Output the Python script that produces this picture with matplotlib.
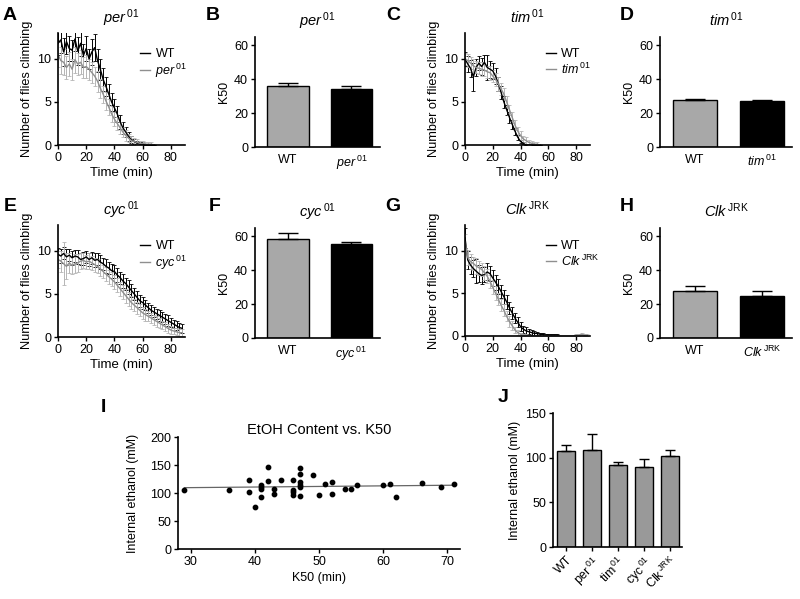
import matplotlib
matplotlib.use("Agg")
import matplotlib.pyplot as plt
import numpy as np

plt.rcParams['font.family'] = ['Liberation Sans', 'DejaVu Sans']
plt.rcParams['mathtext.fontset'] = 'custom'
plt.rcParams['mathtext.rm'] = 'Liberation Sans'
plt.rcParams['mathtext.it'] = 'Liberation Sans:italic'
plt.rcParams['axes.linewidth'] = 1.2
plt.rcParams['xtick.major.width'] = 1.0
plt.rcParams['ytick.major.width'] = 1.0
plt.rcParams['xtick.major.size'] = 3
plt.rcParams['ytick.major.size'] = 3
plt.rcParams['xtick.labelsize'] = 9
plt.rcParams['ytick.labelsize'] = 9

# ---- climbing time courses (time in min, number of flies climbing) ----
t_a = list(range(0, 70, 2))
wt_a = [11.8, 12.2, 10.8, 12.0, 11.2, 11.0, 12.3, 10.9, 11.8, 10.4, 11.2, 10.0, 10.8, 11.3, 9.8, 8.8, 7.6, 6.8,
        5.9, 5.0, 4.3, 3.6, 2.7, 2.0, 1.5, 1.0, 0.6, 0.4, 0.2, 0.1, 0.1, 0.0, 0.0, 0.0, 0.0]
wt_a_err = [1.3, 1.5, 1.6, 1.4, 1.5, 1.2, 1.4, 1.6, 1.5, 1.3, 1.4, 1.2, 1.5, 1.6, 1.3, 1.2, 1.3, 1.1,
            1.2, 1.0, 1.0, 0.9, 0.8, 0.7, 0.6, 0.5, 0.4, 0.3, 0.3, 0.2, 0.2, 0.0, 0.0, 0.0, 0.0]
per_a = [10.5, 9.8, 9.6, 9.0, 9.4, 8.8, 9.9, 9.4, 9.6, 9.0, 9.1, 8.8, 8.4, 8.0, 7.4, 6.6, 5.9, 5.1,
         4.4, 3.6, 3.0, 2.5, 2.0, 1.5, 1.1, 0.8, 0.5, 0.4, 0.3, 0.2, 0.2, 0.1, 0.1, 0.1, 0.0]
per_a_err = [1.4, 1.6, 1.5, 1.3, 1.4, 1.2, 1.5, 1.3, 1.4, 1.2, 1.3, 1.2, 1.2, 1.1, 1.2, 1.1, 1.0, 1.0,
             0.9, 0.9, 0.8, 0.8, 0.7, 0.6, 0.6, 0.5, 0.5, 0.4, 0.4, 0.3, 0.3, 0.3, 0.2, 0.2, 0.1]

t_c = list(range(0, 56, 2))
wt_c = [10.0, 9.4, 8.9, 7.9, 9.0, 9.5, 9.1, 9.6, 9.0, 8.8, 8.6, 8.0, 7.1, 6.1, 5.0, 4.1, 3.2, 2.4,
        1.6, 0.9, 0.4, 0.2, 0.0, 0.0, 0.0, 0.0, 0.0, 0.0]
wt_c_err = [0.8, 0.9, 1.0, 1.6, 1.0, 0.8, 1.0, 0.9, 1.5, 1.0, 0.9, 0.9, 0.8, 0.8, 0.7, 0.6, 0.6, 0.5,
            0.4, 0.3, 0.2, 0.1, 0.0, 0.0, 0.0, 0.0, 0.0, 0.0]
tim_c = [10.0, 9.8, 9.5, 9.2, 9.0, 8.9, 8.8, 8.7, 8.5, 8.4, 8.0, 7.6, 7.1, 6.5, 5.9, 5.0, 4.1, 3.2,
         2.3, 1.6, 1.1, 0.7, 0.5, 0.3, 0.2, 0.1, 0.1, 0.0]
tim_c_err = [0.7, 0.8, 0.7, 0.8, 0.7, 0.7, 0.8, 0.7, 0.7, 0.8, 0.7, 0.7, 0.8, 0.7, 0.7, 0.7, 0.6, 0.6,
             0.6, 0.5, 0.5, 0.4, 0.4, 0.3, 0.3, 0.2, 0.2, 0.1]

t_e = list(range(0, 90, 2))
wt_e = [9.6, 9.4, 9.7, 9.3, 9.5, 9.2, 9.4, 9.3, 9.0, 9.1, 9.3, 9.0, 9.2, 8.9, 9.0, 8.7, 8.5, 8.2, 8.0,
        7.7, 7.6, 7.2, 6.9, 6.5, 6.2, 5.8, 5.4, 5.0, 4.6, 4.2, 4.0, 3.7, 3.4, 3.1, 2.9, 2.7, 2.5, 2.3,
        2.1, 1.9, 1.7, 1.5, 1.3, 1.1, 1.0]
wt_e_err = [0.7, 0.8, 0.7, 0.9, 0.7, 0.8, 0.7, 0.8, 0.7, 0.8, 0.7, 0.8, 0.7, 0.8, 0.7, 0.8, 0.7, 0.8, 0.7,
            0.8, 0.7, 0.8, 0.7, 0.8, 0.7, 0.8, 0.7, 0.7, 0.7, 0.7, 0.7, 0.6, 0.6, 0.6, 0.6, 0.6, 0.6, 0.6,
            0.6, 0.6, 0.5, 0.5, 0.5, 0.5, 0.5]
cyc_e = [9.0, 8.8, 8.5, 8.2, 8.6, 8.3, 8.5, 8.6, 8.8, 8.9, 8.7, 8.8, 8.6, 8.4, 8.2, 7.9, 7.6, 7.3, 7.0,
         6.7, 6.4, 6.0, 5.6, 5.2, 4.8, 4.4, 4.0, 3.7, 3.4, 3.1, 2.8, 2.6, 2.4, 2.2, 2.0, 1.8, 1.6, 1.4,
         1.2, 1.0, 0.8, 0.7, 0.6, 0.5, 0.5]
cyc_e_err = [1.0, 1.2, 2.5, 1.5, 1.2, 1.0, 1.1, 1.0, 0.9, 0.9, 0.8, 0.9, 0.8, 0.8, 0.8, 0.8, 0.8, 0.8, 0.8,
             0.8, 0.8, 0.8, 0.8, 0.8, 0.8, 0.8, 0.8, 0.7, 0.7, 0.7, 0.7, 0.7, 0.6, 0.6, 0.6, 0.6, 0.6, 0.5,
             0.5, 0.5, 0.5, 0.4, 0.4, 0.4, 0.4]

t_g_wt = list(range(0, 70, 2))
wt_g = [11.5, 8.9, 8.3, 7.9, 7.6, 7.3, 7.1, 7.2, 7.5, 7.3, 6.8, 6.3, 5.8, 5.2, 4.6, 4.0, 3.3, 2.7,
        2.1, 1.6, 1.1, 0.8, 0.6, 0.5, 0.4, 0.3, 0.3, 0.2, 0.2, 0.1, 0.1, 0.1, 0.1, 0.1, 0.0]
wt_g_err = [1.2, 1.1, 1.0, 1.0, 1.4, 1.0, 1.0, 0.9, 1.0, 0.9, 0.9, 0.9, 0.9, 0.8, 0.8, 0.8, 0.7, 0.7,
            0.6, 0.6, 0.5, 0.4, 0.4, 0.3, 0.3, 0.3, 0.2, 0.2, 0.2, 0.1, 0.1, 0.1, 0.1, 0.1, 0.0]
t_g_mut = list(range(0, 90, 2))
clk_g = [11.0, 9.2, 8.7, 8.5, 8.2, 8.0, 7.8, 7.4, 7.0, 6.4, 5.7, 5.0, 4.3, 3.6, 3.0, 2.3, 1.7, 1.2,
         0.7, 0.4, 0.2, 0.1, 0.1, 0.0, 0.0, 0.0, 0.0, 0.0, 0.0, 0.0, 0.0, 0.0, 0.0, 0.0, 0.0, 0.0,
         0.0, 0.0, 0.0, 0.0, 0.1, 0.1, 0.2, 0.1, 0.1]
clk_g_err = [1.0, 0.9, 0.9, 0.8, 0.9, 0.8, 0.8, 0.8, 0.8, 0.8, 0.8, 0.8, 0.7, 0.7, 0.7, 0.6, 0.6, 0.5,
             0.4, 0.3, 0.2, 0.1, 0.1, 0.0, 0.0, 0.0, 0.0, 0.0, 0.0, 0.0, 0.0, 0.0, 0.0, 0.0, 0.0, 0.0,
             0.0, 0.0, 0.0, 0.0, 0.1, 0.1, 0.1, 0.1, 0.1]

# ---- K50 bars (min) ----
k50_per = [36.0, 34.5]
k50_per_err = [2.0, 1.8]
k50_tim = [28.0, 27.2]
k50_tim_err = [0.5, 0.5]
k50_cyc = [58.5, 55.5]
k50_cyc_err = [3.5, 1.3]
k50_clk = [28.0, 25.0]
k50_clk_err = [3.0, 2.8]

# ---- EtOH content vs K50 ----
k50_min = [29, 36, 39, 39, 40, 41, 41, 41, 41, 42, 42, 43, 43, 44, 46, 46, 46, 46, 47, 47, 47, 47,
           47, 47, 49, 50, 51, 52, 52, 54, 55, 56, 60, 61, 62, 66, 69, 71]
etoh_mM = [106, 105, 123, 101, 75, 115, 111, 108, 93, 146, 122, 107, 98, 124, 123, 106, 102, 97, 145,
           134, 120, 114, 110, 95, 132, 97, 116, 119, 98, 107, 108, 114, 115, 116, 92, 117, 111, 116]

genotypes = ['WT', r'$\mathrm{per}^{\,\mathrm{01}}$', r'$\mathrm{tim}^{\,\mathrm{01}}$',
             r'$\mathrm{cyc}^{\,\mathrm{01}}$', r'$\mathrm{Clk}^{\,\mathrm{JRK}}$']
ethanol = [108, 109, 92, 90, 102]
ethanol_err = [6, 18, 3, 9, 7]

W, H = 800, 599
fig = plt.figure(figsize=(8, 5.99), dpi=100)


def box(x0, y0, x1, y1):
    # pixel box -> figure fraction
    return [x0 / W, 1 - y1 / H, (x1 - x0) / W, (y1 - y0) / H]


def clean(ax):
    ax.spines['top'].set_visible(False)
    ax.spines['right'].set_visible(False)
    ax.tick_params(direction='out', pad=2)


def course(rect, t_wt, wt, wt_err, t_mut, mut, mut_err, name):
    ax = fig.add_axes(rect)
    clean(ax)
    ax.errorbar(t_wt, wt, yerr=wt_err, color='black', lw=1.0, elinewidth=0.7,
                capsize=1.5, capthick=0.6, label='WT')
    ax.errorbar(t_mut, mut, yerr=mut_err, color='#8f8f8f', ecolor='#b5b5b5', lw=1.0,
                elinewidth=0.7, capsize=1.5, capthick=0.6, label=name)
    ax.set_xlim(0, 90)
    ax.set_ylim(0, 13)
    ax.set_xticks([0, 20, 40, 60, 80])
    ax.set_yticks([0, 5, 10])
    ax.set_xlabel('Time (min)', fontsize=9.5, labelpad=2)
    ax.set_ylabel('Number of flies climbing', fontsize=9.2, labelpad=3)
    ax.set_title(name, fontsize=10.5, pad=7)
    h, l = ax.get_legend_handles_labels()
    h = [x[0] for x in h]
    ax.legend(h, l, loc='upper left', bbox_to_anchor=(0.6, 0.92), frameon=False,
              fontsize=9, handlelength=0.8, handletextpad=0.4, labelspacing=0.1, borderpad=0)
    return ax


def k50(rect, vals, errs, name):
    ax = fig.add_axes(rect)
    clean(ax)
    x = np.arange(len(vals))
    ax.bar(x, vals, width=0.66, color=['#a8a8a8', 'black'], edgecolor='black', linewidth=1.0)
    ax.errorbar(x, vals, yerr=[np.zeros(len(errs)), errs], fmt='none', ecolor='black',
                elinewidth=1.0, capsize=7, capthick=1.0)
    ax.set_xlim(-0.52, 1.45)
    ax.set_ylim(0, 65)
    ax.spines['left'].set_bounds(0, 65)
    ax.set_yticks([0, 20, 40, 60])
    ax.set_xticks(x)
    ax.set_xticklabels(['WT', name], fontsize=9)
    ax.tick_params(axis='x', length=0, pad=5)
    ax.set_ylabel('K50', fontsize=9, labelpad=3)
    ax.set_title(name, fontsize=10.5, pad=8)
    return ax


per = r'$\mathit{per}^{\,\mathrm{01}}$'
tim = r'$\mathit{tim}^{\,\mathrm{01}}$'
cyc = r'$\mathit{cyc}^{\,\mathrm{01}}$'
clk = r'$\mathit{Clk}^{\,\mathrm{JRK}}$'

course(box(58, 33, 185, 145), t_a, wt_a, wt_a_err, t_a, per_a, per_a_err, per)
k50(box(255, 37, 380, 147), k50_per, k50_per_err, per)
course(box(465, 33, 590, 145), t_c, wt_c, wt_c_err, t_c, tim_c, tim_c_err, tim)
k50(box(660, 37, 792, 147), k50_tim, k50_tim_err, tim)
course(box(58, 225, 185, 337), t_e, wt_e, wt_e_err, t_e, cyc_e, cyc_e_err, cyc)
k50(box(255, 228, 380, 338), k50_cyc, k50_cyc_err, cyc)
course(box(465, 225, 590, 336), t_g_wt, wt_g, wt_g_err, t_g_mut, clk_g, clk_g_err, clk)
k50(box(660, 228, 792, 338), k50_clk, k50_clk_err, clk)

# ---- I: scatter ----
axi = fig.add_axes(box(178, 437, 460, 549))
clean(axi)
axi.scatter(k50_min, etoh_mM, s=10, color='black', zorder=3)
fit = np.polyfit(k50_min, etoh_mM, 1)
xs = np.array([min(k50_min), max(k50_min)])
axi.plot(xs, np.polyval(fit, xs), color='#666666', lw=0.9)
axi.set_xlim(28, 72)
axi.set_ylim(0, 200)
axi.set_xticks([30, 40, 50, 60, 70])
axi.set_yticks([0, 50, 100, 150, 200])
axi.set_xlabel('K50 (min)', fontsize=9, labelpad=3)
axi.set_ylabel('Internal ethanol (mM)', fontsize=9, labelpad=8)
axi.set_title('EtOH Content vs. K50', fontsize=10.5, pad=0)

# ---- J: internal ethanol bars ----
axj = fig.add_axes(box(553, 413, 682, 547))
clean(axj)
xj = np.arange(len(ethanol))
axj.bar(xj, ethanol, width=0.69, color='#999999', edgecolor='black', linewidth=1.0)
axj.errorbar(xj, ethanol, yerr=[np.zeros(len(ethanol_err)), ethanol_err], fmt='none',
             ecolor='black', elinewidth=1.0, capsize=3.5, capthick=1.0)
axj.set_xlim(-0.5, 4.46)
axj.set_ylim(0, 150)
axj.set_yticks([0, 50, 100, 150])
axj.set_xticks(xj)
axj.set_xticklabels(genotypes, rotation=45, ha='right', rotation_mode='anchor', fontsize=9)
axj.tick_params(axis='x', length=3)
axj.set_ylabel('Internal ethanol (mM)', fontsize=9, labelpad=3)

# panel letters
letters = {'A': (10, 15), 'B': (213, 15), 'C': (393, 15), 'D': (627, 15),
           'E': (10, 207), 'F': (215, 207), 'G': (393, 207), 'H': (627, 207),
           'I': (103, 407), 'J': (503, 397)}
for k, (px, py) in letters.items():
    fig.text(px / W, 1 - py / H, k, fontsize=14, fontweight='bold', ha='center', va='center')

fig.savefig('out.png', dpi=100)
